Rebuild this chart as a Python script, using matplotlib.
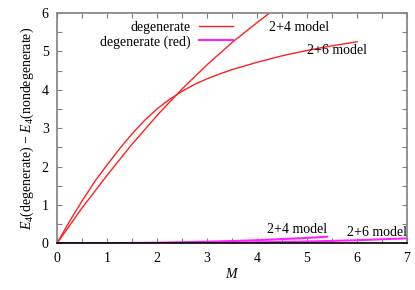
import matplotlib
matplotlib.use("Agg")
import matplotlib.pyplot as plt

# Data
x_deg24 = [0, 0.5, 1, 1.5, 2, 2.5, 3, 3.5, 4, 4.25]
y_deg24 = [0, 0.92, 1.77, 2.58, 3.33, 4.02, 4.65, 5.23, 5.75, 6.0]
x_deg26 = [0, 0.25, 0.5, 0.75, 1, 1.25, 1.5, 1.75, 2, 2.25, 2.5, 2.75, 3, 3.25,
           3.5, 4, 4.5, 5, 5.5, 6]
y_deg26 = [0, 0.57, 1.1, 1.6, 2.04, 2.46, 2.85, 3.2, 3.5, 3.75, 3.96, 4.14, 4.285,
           4.41, 4.525, 4.715, 4.885, 5.025, 5.145, 5.25]
x_red24 = [0, 1, 2, 3, 4, 5, 5.4]
y_red24 = [0, 0.003, 0.015, 0.04, 0.08, 0.14, 0.17]
x_red26 = [0, 1, 2, 3, 4, 5, 6, 7]
y_red26 = [0, 0.001, 0.005, 0.012, 0.025, 0.045, 0.08, 0.13]
x_ticks = [0, 1, 2, 3, 4, 5, 6, 7]
y_ticks = [0, 1, 2, 3, 4, 5, 6]

plt.rcParams['font.family'] = ['Liberation Serif', 'DejaVu Serif']
plt.rcParams['mathtext.fontset'] = 'custom'
plt.rcParams['mathtext.rm'] = 'Liberation Serif'
plt.rcParams['mathtext.it'] = 'Liberation Serif:italic'
plt.rcParams['font.size'] = 10

fig = plt.figure(figsize=(4.15, 2.9), dpi=100)
ax = fig.add_axes([57/415, 1 - 243.3/290, 350/415, 230.3/290])

red = '#ff2020'
mag = '#ff20ff'
ax.plot(x_deg24, y_deg24, color=red, lw=1.0, label='degenerate')
ax.plot(x_deg26, y_deg26, color=red, lw=1.0)
ax.plot(x_red24, y_red24, color=mag, lw=1.5, label='degenerate (red)')
ax.plot(x_red26, y_red26, color=mag, lw=1.5)

ax.text(4.23, 5.62, '2+4 model', va='center', ha='left')
ax.text(4.99, 5.01, '2+6 model', va='center', ha='left')
ax.text(4.19, 0.35, '2+4 model', va='center', ha='left')
ax.text(5.79, 0.27, '2+6 model', va='center', ha='left')

ax.set_xlim(0, 7)
ax.set_ylim(0, 6)
ax.set_xticks(x_ticks)
ax.set_yticks(y_ticks)
ax.set_xticks([v + 0.5 for v in x_ticks[:-1]], minor=True)
ax.set_yticks([v + 0.5 for v in y_ticks[:-1]], minor=True)
ax.tick_params(which='both', direction='in', top=True, right=True,
               length=3.5, width=0.8, color='#808080', labelsize=10)
ax.tick_params(which='major', pad=6)
for s in ax.spines.values():
    s.set_color('#808080')
    s.set_linewidth(1.2)
ax.spines['bottom'].set_color('black')

ax.set_xlabel('$M$', labelpad=2)
ax.set_ylabel('$E_4$(degenerate) $-$ $E_4$(nondegenerate)', labelpad=4)

leg = ax.legend(loc='upper right', bbox_to_anchor=(0.527, 1.0), frameon=False,
                markerfirst=False, handlelength=2.45, handletextpad=0.6,
                labelspacing=0.05, borderaxespad=0.2, fontsize=10)

fig.savefig('out.png', dpi=100)
